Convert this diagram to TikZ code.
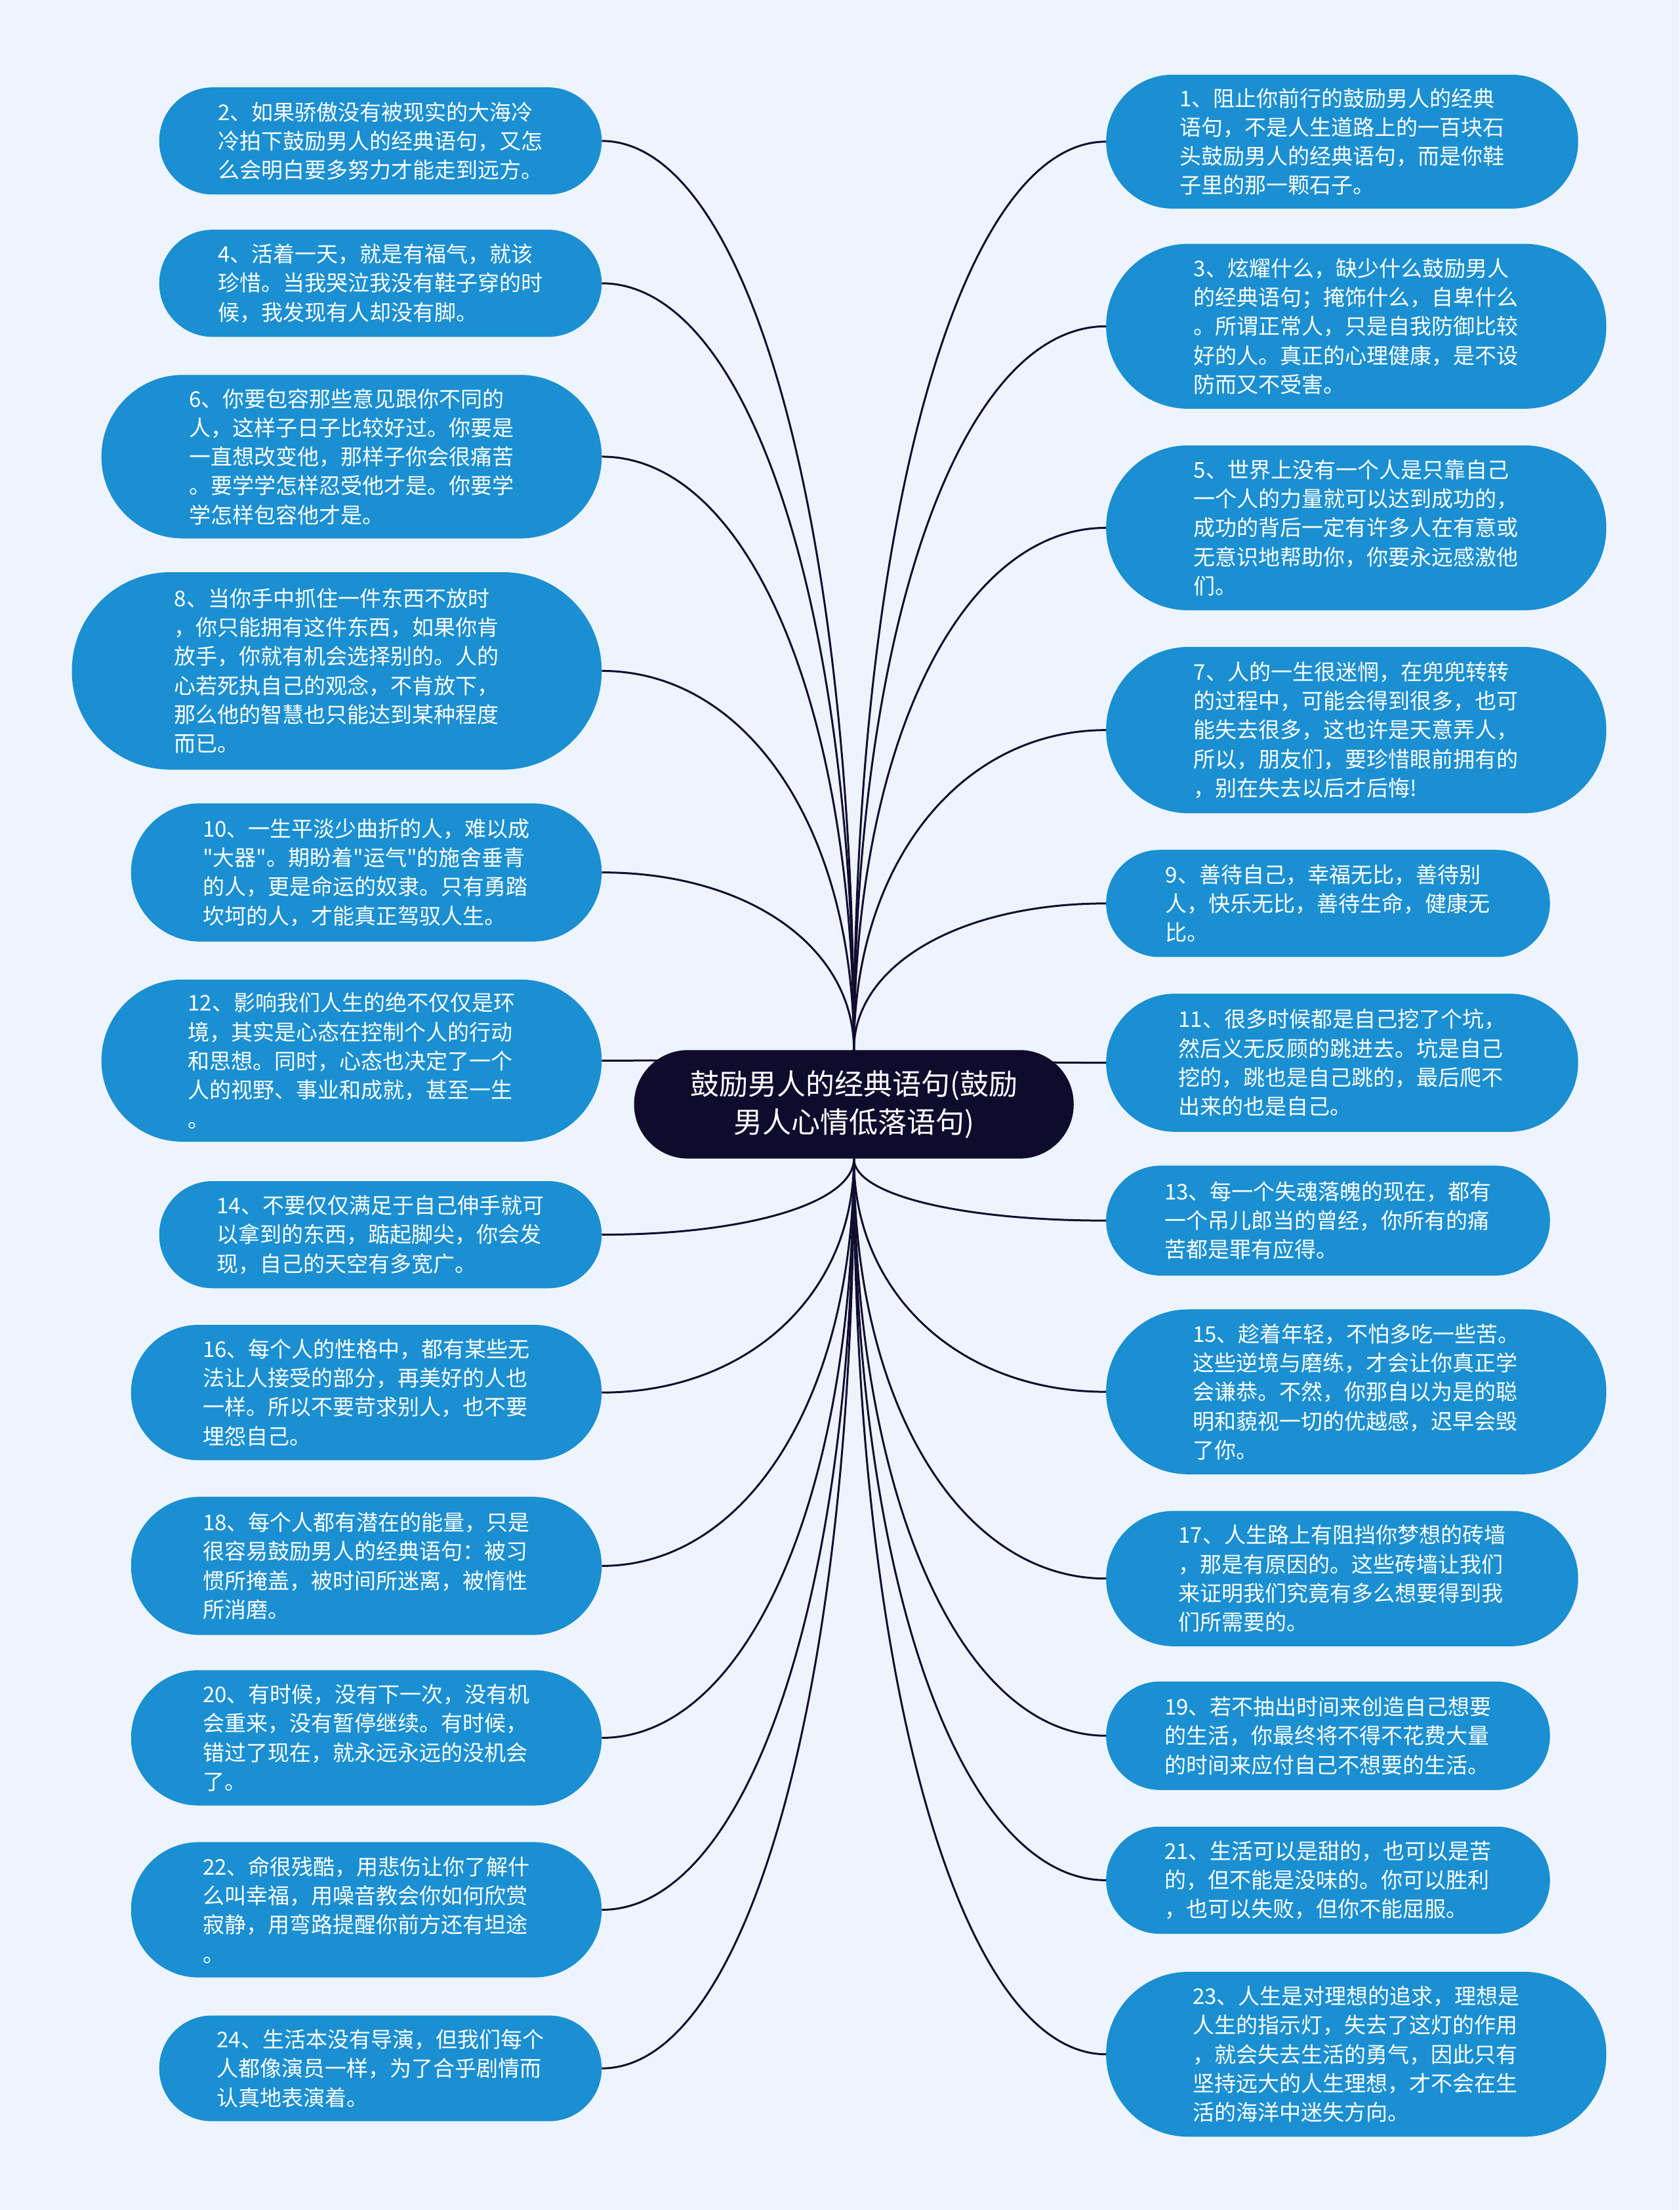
\documentclass[tikz,border=0pt]{standalone}
\usepackage{fontspec}
\newfontfamily\cjkf{Noto Sans CJK SC}
\usetikzlibrary{calc}
\definecolor{bgc}{HTML}{EEF4FD}
\definecolor{leafc}{HTML}{1A8FD1}
\definecolor{rootc}{HTML}{0E0B2D}
\definecolor{linec}{HTML}{110D2F}
\pgfdeclarelayer{bg}
\pgfsetlayers{bg,main}
\newcommand\leaf[6]{\node[leafbox,minimum width={#4*2.1477pt},minimum height={#5*2.1477pt},rounded corners={#5*1.07pt}] (#1) at (#2,#3) {#6};}
\newcommand\mmlink[2]{\coordinate (k) at (#1|-#2);\draw[conn] (#1) .. controls ($(#1)!0.58!(k)$) and ($(#2)!0.58!(k)$) .. (#2);}
\begin{document}
\begin{tikzpicture}[x=2.1477pt,y=-2.1477pt,
 leafbox/.style={draw=none,fill=leafc,text=white,align=left,inner sep=0pt,font={\cjkf\fontsize{33pt}{44.3pt}\selectfont}},
 rootbox/.style={draw=none,fill=rootc,text=white,align=center,inner sep=0pt,font={\cjkf\fontsize{44pt}{58pt}\selectfont}},
 conn/.style={draw=linec,line width=3pt}]
\useasboundingbox (0,0) rectangle (1192,1568);
% root
\node[rootbox,minimum width={312*2.1477pt},minimum height={77*2.1477pt},rounded corners={77*1.07pt}] (c) at (606,783.5) {鼓励男人的经典语句(鼓励\\男人心情低落语句)};
% left
\leaf{L2}{270}{100}{314}{76}{2、如果骄傲没有被现实的大海冷\\冷拍下鼓励男人的经典语句，又怎\\么会明白要多努力才能走到远方。}
\leaf{L4}{270}{201}{314}{76}{4、活着一天，就是有福气，就该\\珍惜。当我哭泣我没有鞋子穿的时\\候，我发现有人却没有脚。}
\leaf{L6}{249.5}{324}{355}{116}{6、你要包容那些意见跟你不同的\\人，这样子日子比较好过。你要是\\一直想改变他，那样子你会很痛苦\\。要学学怎样忍受他才是。你要学\\学怎样包容他才是。}
\leaf{L8}{239}{476}{376}{140}{8、当你手中抓住一件东西不放时\\，你只能拥有这件东西，如果你肯\\放手，你就有机会选择别的。人的\\心若死执自己的观念，不肯放下，\\那么他的智慧也只能达到某种程度\\而已。}
\leaf{L10}{260}{619}{334}{98}{10、一生平淡少曲折的人，难以成\\"大器"。期盼着"运气"的施舍垂青\\的人，更是命运的奴隶。只有勇踏\\坎坷的人，才能真正驾驭人生。}
\leaf{L12}{249.5}{752.5}{355}{115}{12、影响我们人生的绝不仅仅是环\\境，其实是心态在控制个人的行动\\和思想。同时，心态也决定了一个\\人的视野、事业和成就，甚至一生\\。}
\leaf{L14}{270}{876}{314}{76}{14、不要仅仅满足于自己伸手就可\\以拿到的东西，踮起脚尖，你会发\\现，自己的天空有多宽广。}
\leaf{L16}{260}{988}{334}{96}{16、每个人的性格中，都有某些无\\法让人接受的部分，再美好的人也\\一样。所以不要苛求别人，也不要\\埋怨自己。}
\leaf{L18}{260}{1111}{334}{98}{18、每个人都有潜在的能量，只是\\很容易鼓励男人的经典语句：被习\\惯所掩盖，被时间所迷离，被惰性\\所消磨。}
\leaf{L20}{260}{1233}{334}{96}{20、有时候，没有下一次，没有机\\会重来，没有暂停继续。有时候，\\错过了现在，就永远永远的没机会\\了。}
\leaf{L22}{260}{1355}{334}{96}{22、命很残酷，用悲伤让你了解什\\么叫幸福，用噪音教会你如何欣赏\\寂静，用弯路提醒你前方还有坦途\\。}
\leaf{L24}{270}{1467.5}{314}{75}{24、生活本没有导演，但我们每个\\人都像演员一样，为了合乎剧情而\\认真地表演着。}
% right
\leaf{R1}{952.5}{100.5}{335}{95}{1、阻止你前行的鼓励男人的经典\\语句，不是人生道路上的一百块石\\头鼓励男人的经典语句，而是你鞋\\子里的那一颗石子。}
\leaf{R3}{962.5}{231.5}{355}{117}{3、炫耀什么，缺少什么鼓励男人\\的经典语句；掩饰什么，自卑什么\\。所谓正常人，只是自我防御比较\\好的人。真正的心理健康，是不设\\防而又不受害。}
\leaf{R5}{962.5}{374.5}{355}{117}{5、世界上没有一个人是只靠自己\\一个人的力量就可以达到成功的，\\成功的背后一定有许多人在有意或\\无意识地帮助你，你要永远感激他\\们。}
\leaf{R7}{962.5}{518}{355}{118}{7、人的一生很迷惘，在兜兜转转\\的过程中，可能会得到很多，也可\\能失去很多，这也许是天意弄人，\\所以，朋友们，要珍惜眼前拥有的\\，别在失去以后才后悔!}
\leaf{R9}{942.5}{641}{315}{76}{9、善待自己，幸福无比，善待别\\人，快乐无比，善待生命，健康无\\比。}
\leaf{R11}{952.5}{754}{335}{98}{11、很多时候都是自己挖了个坑，\\然后义无反顾的跳进去。坑是自己\\挖的，跳也是自己跳的，最后爬不\\出来的也是自己。}
\leaf{R13}{942.5}{866}{315}{78}{13、每一个失魂落魄的现在，都有\\一个吊儿郎当的曾经，你所有的痛\\苦都是罪有应得。}
\leaf{R15}{962.5}{987.5}{355}{117}{15、趁着年轻，不怕多吃一些苦。\\这些逆境与磨练，才会让你真正学\\会谦恭。不然，你那自以为是的聪\\明和藐视一切的优越感，迟早会毁\\了你。}
\leaf{R17}{952.5}{1120}{335}{96}{17、人生路上有阻挡你梦想的砖墙\\，那是有原因的。这些砖墙让我们\\来证明我们究竟有多么想要得到我\\们所需要的。}
\leaf{R19}{942.5}{1231.5}{315}{77}{19、若不抽出时间来创造自己想要\\的生活，你最终将不得不花费大量\\的时间来应付自己不想要的生活。}
\leaf{R21}{942.5}{1334}{315}{76}{21、生活可以是甜的，也可以是苦\\的，但不能是没味的。你可以胜利\\，也可以失败，但你不能屈服。}
\leaf{R23}{962.5}{1457.5}{355}{117}{23、人生是对理想的追求，理想是\\人生的指示灯，失去了这灯的作用\\，就会失去生活的勇气，因此只有\\坚持远大的人生理想，才不会在生\\活的海洋中迷失方向。}
\begin{pgfonlayer}{bg}
\fill[bgc] (0,0) rectangle (1192,1568);
\foreach \n in {L2,L4,L6,L8,L10,L12}{\mmlink{c.north}{\n.east}}
\foreach \n in {L14,L16,L18,L20,L22,L24}{\mmlink{c.south}{\n.east}}
\foreach \n in {R1,R3,R5,R7,R9,R11}{\mmlink{c.north}{\n.west}}
\foreach \n in {R13,R15,R17,R19,R21,R23}{\mmlink{c.south}{\n.west}}
\end{pgfonlayer}
\end{tikzpicture}
\end{document}
